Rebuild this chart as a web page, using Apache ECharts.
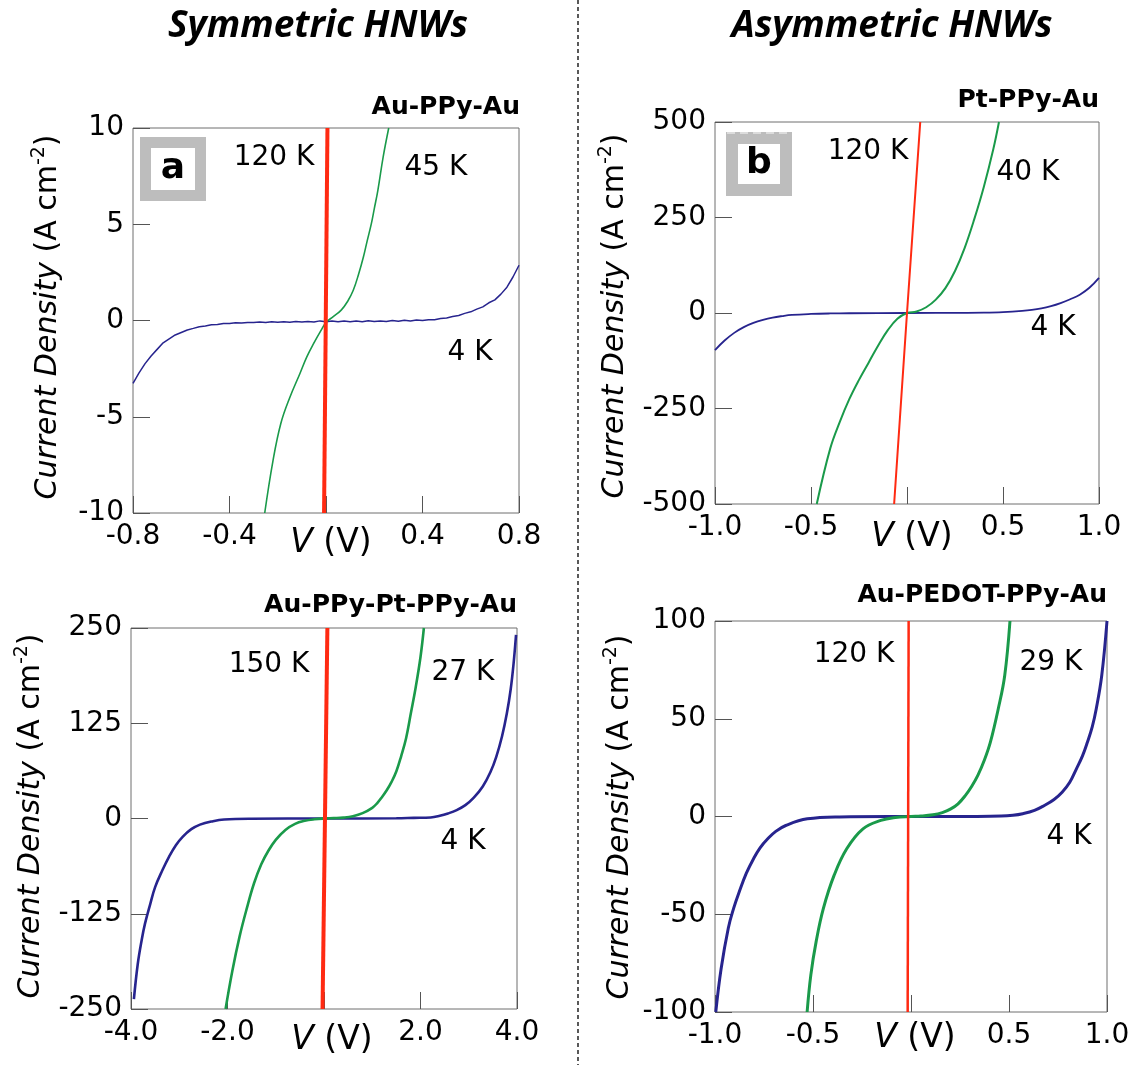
<!DOCTYPE html>
<html><head><meta charset="utf-8">
<script src="https://cdn.jsdelivr.net/npm/echarts@6/dist/echarts.min.js"></script>
<style>html,body{margin:0;padding:0;background:#fff}#c{width:1133px;height:1065px}</style>
</head><body><div id="c"></div><script>
// ---------- Panel a: Au-PPy-Au (V, J) ----------
const aRed120K = [[-0.008,-10],[0.006,10]];
const aGreen45K = [[-0.254,-10],[-0.22,-7.3],[-0.187,-5.34],[-0.15,-4.0],[-0.108,-2.75],[-0.08,-1.9],[-0.051,-1.19],[-0.02,-0.5],[0,-0.1],[0.03,0.2],[0.063,0.54],[0.09,1.0],[0.113,1.57],[0.135,2.4],[0.155,3.3],[0.17,4.1],[0.188,5.03],[0.2,5.8],[0.215,6.76],[0.237,8.5],[0.26,10]];
const aBlue4K = [[-0.8,-3.27],[-0.775,-2.72],[-0.75,-2.24],[-0.725,-1.84],[-0.7,-1.5],[-0.675,-1.16],[-0.65,-0.95],[-0.625,-0.75],[-0.6,-0.62],[-0.575,-0.49],[-0.55,-0.41],[-0.525,-0.32],[-0.5,-0.28],[-0.475,-0.22],[-0.45,-0.21],[-0.425,-0.16],[-0.4,-0.16],[-0.375,-0.12],[-0.35,-0.13],[-0.325,-0.1],[-0.3,-0.11],[-0.275,-0.08],[-0.25,-0.1],[-0.225,-0.06],[-0.2,-0.09],[-0.175,-0.06],[-0.15,-0.09],[-0.125,-0.05],[-0.1,-0.08],[-0.075,-0.05],[-0.05,-0.08],[-0.025,-0.02],[0,-0.07],[0.025,-0.03],[0.05,-0.07],[0.075,-0.02],[0.1,-0.06],[0.125,-0.03],[0.15,-0.06],[0.175,-0.01],[0.2,-0.05],[0.225,-0.02],[0.25,-0.05],[0.275,0],[0.3,-0.04],[0.325,0.01],[0.35,-0.02],[0.375,0.02],[0.4,0],[0.425,0.04],[0.45,0.04],[0.475,0.1],[0.5,0.13],[0.525,0.21],[0.55,0.26],[0.575,0.37],[0.6,0.45],[0.625,0.59],[0.65,0.71],[0.675,0.92],[0.7,1.07],[0.725,1.37],[0.75,1.73],[0.775,2.26],[0.8,2.87]];
// ---------- Panel b: Pt-PPy-Au ----------
const bRed120K = [[-0.067,-500],[0,0],[0.069,500]];
const bGreen40K = [[-0.47,-500],[-0.4,-355],[-0.35,-285],[-0.3,-225],[-0.25,-175],[-0.2,-130],[-0.15,-85],[-0.1,-45],[-0.05,-15],[0,0],[0.05,4],[0.1,15],[0.15,35],[0.2,65],[0.25,110],[0.3,170],[0.35,245],[0.4,330],[0.45,430],[0.479,500]];
const bBlue4K = [[-1,-97],[-0.95,-72],[-0.9,-52],[-0.85,-37],[-0.8,-26],[-0.75,-18],[-0.7,-12],[-0.65,-8],[-0.6,-5],[-0.5,-2.5],[-0.4,-1.2],[-0.3,-0.6],[0,0],[0.3,0.5],[0.4,1],[0.5,2.5],[0.6,5.5],[0.65,8],[0.7,12],[0.75,18],[0.8,26],[0.85,36],[0.9,48],[0.95,66],[1.0,92]];
// ---------- Panel c: Au-PPy-Pt-PPy-Au ----------
const cRed150K = [[-0.03,-250],[0.07,250]];
const cGreen27K = [[-2.04,-250],[-1.9,-200],[-1.75,-155],[-1.6,-118],[-1.45,-85],[-1.3,-60],[-1.15,-42],[-1.0,-28],[-0.8,-15],[-0.6,-7],[-0.4,-3],[-0.2,-1],[0,0],[0.2,0.5],[0.4,1.2],[0.6,3],[0.8,7],[1.0,14],[1.1,20],[1.2,28],[1.3,37],[1.4,48],[1.5,62],[1.6,82],[1.7,105],[1.8,138],[1.9,172],[2.0,212],[2.07,250]];
const cBlue4K = [[-3.94,-237],[-3.86,-191],[-3.78,-160],[-3.71,-138],[-3.6,-112],[-3.5,-90],[-3.35,-68],[-3.21,-50],[-3.07,-35],[-2.93,-24],[-2.75,-14],[-2.57,-8],[-2.3,-3.5],[-2.07,-1.3],[-1.5,-0.3],[0,0],[1.5,0.3],[1.86,0.8],[2.21,1.3],[2.4,3.5],[2.57,6.6],[2.75,11],[2.93,17.5],[3.1,27],[3.29,42],[3.45,61],[3.57,81],[3.69,108],[3.79,138],[3.87,170],[3.93,204],[3.98,241]];
// ---------- Panel d: Au-PEDOT-PPy-Au ----------
const dRed120K = [[-0.017,-100],[-0.012,100]];
const dGreen29K = [[-0.53,-100],[-0.511,-81],[-0.484,-64],[-0.447,-47],[-0.392,-30],[-0.328,-16.5],[-0.245,-6.3],[-0.154,-2],[-0.08,-0.5],[0,0],[0.05,0.2],[0.112,0.85],[0.16,2],[0.203,3.9],[0.24,6.5],[0.277,10.7],[0.31,15.5],[0.341,21],[0.375,29],[0.405,38],[0.445,55],[0.478,72],[0.505,100]];
const dBlue4K = [[-0.996,-100],[-0.969,-78],[-0.932,-57],[-0.905,-47],[-0.877,-38.7],[-0.84,-29],[-0.804,-21.7],[-0.77,-16],[-0.731,-11.4],[-0.69,-7.6],[-0.639,-4.6],[-0.529,-1.2],[-0.364,-0.2],[0,0],[0.3,0.05],[0.46,0.2],[0.52,0.6],[0.57,1.4],[0.63,3.1],[0.68,5.6],[0.73,8.7],[0.771,12.4],[0.81,17.5],[0.844,24.4],[0.875,31],[0.9,38],[0.925,46],[0.945,55],[0.973,72],[1.0,100]];

// axis ranges / ticks
const xRanges = [[-0.8,0.8,0.4],[-1,1,0.5],[-4,4,2],[-1,1,0.5]];
const yRanges = [[-10,10,5],[-500,500,250],[-250,250,125],[-100,100,50]];
const panelTitles = ['Au-PPy-Au','Pt-PPy-Au','Au-PPy-Pt-PPy-Au','Au-PEDOT-PPy-Au'];
const headers = ['Symmetric HNWs','Asymmetric HNWs'];
const tempLabels = [['120 K','45 K','4 K'],['120 K','40 K','4 K'],['150 K','27 K','4 K'],['120 K','29 K','4 K']];
const panelLetters = ['a','b'];

const RED='#ff2a12', GREEN='#1a9a4a', BLUE='#27248e';
const FONT='DejaVu Sans';

const grids = [
  {left:133, top:128, width:386, height:385},
  {left:715, top:122, width:384, height:382},
  {left:131, top:628, width:386, height:381},
  {left:715, top:621, width:392, height:391}
];

const chart = echarts.init(document.getElementById('c'));
const xAxis=[], yAxis=[];
grids.forEach((g,i)=>{
  xAxis.push({type:'value', gridIndex:i, min:xRanges[i][0], max:xRanges[i][1], interval:xRanges[i][2],
    axisLine:{show:false, onZero:false}, splitLine:{show:false},
    axisTick:{show:true, inside:true, length:17, lineStyle:{color:'#555', width:1}},
    axisLabel:{margin:10, fontFamily:FONT, fontSize:28, color:'#000',
      formatter:v=> Math.abs(v)<1e-9 ? '' : v.toFixed(1)}});
  yAxis.push({type:'value', gridIndex:i, min:yRanges[i][0], max:yRanges[i][1], interval:yRanges[i][2],
    axisLine:{show:false, onZero:false}, splitLine:{show:false},
    axisTick:{show:true, inside:true, length:17, lineStyle:{color:'#555', width:1}},
    axisLabel:{margin:9, fontFamily:FONT, fontSize:28, color:'#000', formatter:v=>String(Math.round(v))}});
});

function ser(i,data,color,w,smooth){
  return {type:'line', xAxisIndex:i, yAxisIndex:i, data:data, showSymbol:false, symbol:'none',
    smooth:smooth, lineStyle:{color:color, width:w}, animation:false, silent:true};
}
const series=[
  ser(0,aBlue4K,BLUE,1.5,false), ser(0,aGreen45K,GREEN,1.6,0.4), ser(0,aRed120K,RED,4,false),
  ser(1,bBlue4K,BLUE,1.8,0.4), ser(1,bGreen40K,GREEN,2,0.4), ser(1,bRed120K,RED,2,false),
  ser(2,cBlue4K,BLUE,2.6,0.4), ser(2,cGreen27K,GREEN,2.6,0.4), ser(2,cRed150K,RED,4,false),
  ser(3,dBlue4K,BLUE,3,0.4), ser(3,dGreen29K,GREEN,3,0.4), ser(3,dRed120K,RED,2.5,false)
];

function txt(x,y,text,size,opts){
  opts=opts||{};
  return {type:'text', x:x, y:y, rotation:opts.rot||0, z:10,
    style:Object.assign({text:text, fontFamily:opts.family||FONT, fontSize:size, fontWeight:opts.weight||'normal',
      fontStyle:opts.style||'normal', fill:'#000', align:opts.align||'center', verticalAlign:'middle'}, opts.extra||{})};
}
const yNameRich = {i:{fontStyle:'italic', fontFamily:FONT, fontSize:30}, s:{fontFamily:FONT, fontSize:19, verticalAlign:'top', lineHeight:36}};
function yName(x,y){
  return txt(x,y,'{i|Current Density} (A cm{s|-2})',30,{rot:Math.PI/2, extra:{rich:yNameRich, lineHeight:36}});
}
function xName(x,y){
  return txt(x,y,'{i|V} (V)',33,{extra:{rich:{i:{fontStyle:'italic', fontFamily:FONT, fontSize:33}}}});
}
function letterBox(x,y,w,h,t,letter,lx,ly){
  return [
    {type:'rect', shape:{x:x,y:y,width:w,height:h}, style:{fill:'#bdbdbd'}, z:5},
    {type:'rect', shape:{x:x+t,y:y+t,width:w-2*t,height:h-2*t}, style:{fill:'#fff'}, z:6},
    txt(lx,ly,letter,36,{weight:'bold'})
  ];
}
const HFONT = "'Open Sans', 'DejaVu Sans'";
const graphic = [
  {type:'line', shape:{x1:578,y1:0,x2:578,y2:1065}, style:{stroke:'#000', lineWidth:1.3, lineDash:[4,3]}},
  txt(318,26,headers[0],37,{weight:'bold', style:'italic', family:HFONT}),
  txt(892,26,headers[1],37,{weight:'bold', style:'italic', family:HFONT}),
  txt(520,107,panelTitles[0],25,{weight:'bold', align:'right'}),
  txt(1099,100,panelTitles[1],25,{weight:'bold', align:'right'}),
  txt(517,605,panelTitles[2],25,{weight:'bold', align:'right'}),
  txt(1107,595,panelTitles[3],25,{weight:'bold', align:'right'}),
  txt(274,158,tempLabels[0][0],28), txt(436,168,tempLabels[0][1],28), txt(470,353,tempLabels[0][2],28),
  txt(868,152,tempLabels[1][0],28), txt(1028,173,tempLabels[1][1],28), txt(1053,328,tempLabels[1][2],28),
  txt(269,665,tempLabels[2][0],28), txt(463,673,tempLabels[2][1],28), txt(463,842,tempLabels[2][2],28),
  txt(854,655,tempLabels[3][0],28), txt(1051,663,tempLabels[3][1],28), txt(1069,837,tempLabels[3][2],28),
  yName(48,317), yName(615,316), yName(31,816), yName(620,817),
  xName(331,543), xName(912,537), xName(332,1040), xName(915,1038),
  ...letterBox(140,137,66,64,11,panelLetters[0],173,169),
  ...letterBox(726,132,66,64,12,panelLetters[1],759,164),
  {type:'line', shape:{x1:727,y1:133,x2:791,y2:133}, style:{stroke:'#e6e6e6', lineWidth:1.5, lineDash:[8,5]}, z:7}
];

chart.setOption({
  animation:false,
  backgroundColor:'#fff',
  grid: grids.map(g=>Object.assign({show:true, borderColor:'#6e6e6e', borderWidth:1, backgroundColor:'transparent'}, g)),
  xAxis:xAxis, yAxis:yAxis, series:series, graphic:graphic
});
</script></body></html>
